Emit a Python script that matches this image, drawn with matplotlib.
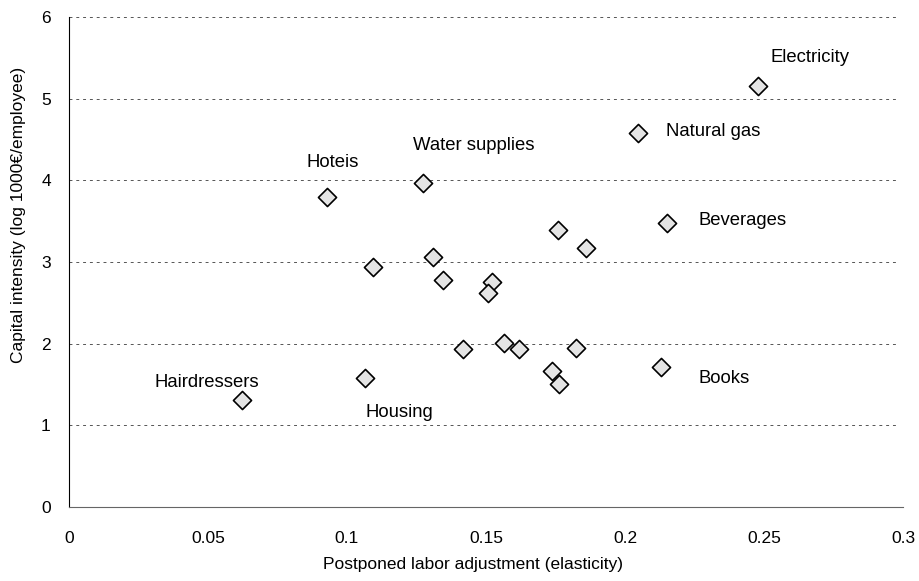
import matplotlib.pyplot as plt

plt.rcParams['font.family'] = ['Liberation Sans', 'DejaVu Sans']

# Datos (elasticidad, intensidad de capital)
elasticidad = [0.0622, 0.0927, 0.1275, 0.1095, 0.1065, 0.1310, 0.1347, 0.1416,
               0.1520, 0.1506, 0.1566, 0.1619, 0.1736, 0.1763, 0.1760, 0.1859,
               0.1824, 0.2047, 0.2150, 0.2130, 0.2480]
intensidad = [1.31, 3.80, 3.97, 2.94, 1.58, 3.06, 2.78, 1.94,
              2.76, 2.62, 2.01, 1.94, 1.66, 1.51, 3.39, 3.17,
              1.95, 4.58, 3.48, 1.71, 5.15]

# Etiquetas de sectores y su posición
sectores = ['Hairdressers', 'Housing', 'Hoteis', 'Water supplies',
            'Electricity', 'Natural gas', 'Beverages', 'Books']
pos_etiquetas = [(0.0309, 1.53), (0.1068, 1.16), (0.0856, 4.22), (0.1237, 4.43),
                 (0.2522, 5.50), (0.2147, 4.60), (0.2263, 3.51), (0.2266, 1.57)]

fig = plt.figure(figsize=(9.19, 5.81), dpi=100)
ax = fig.add_axes([0.075, 0.1274, 0.9076, 0.8433])

for y in [1, 2, 3, 4, 5, 6]:
    ax.axhline(y, xmax=0.993, color='#555555', linewidth=0.7,
               linestyle=(0, (3, 4)), zorder=1)

ax.scatter(elasticidad, intensidad, marker='D', s=85, facecolor='#e4e4e4',
           edgecolor='black', linewidth=1.2, zorder=3)

for nombre, (px, py) in zip(sectores, pos_etiquetas):
    ax.text(px, py, nombre, fontsize=13.3, ha='left', va='center')

ax.set_xlim(0, 0.3)
ax.set_ylim(0, 6)
ax.set_xticks([0, 0.05, 0.1, 0.15, 0.2, 0.25, 0.3])
ax.set_xticklabels(['0', '0.05', '0.1', '0.15', '0.2', '0.25', '0.3'])
ax.set_yticks([0, 1, 2, 3, 4, 5, 6])
ax.tick_params(length=0, labelsize=12.5)
ax.tick_params(axis='x', pad=17)
ax.tick_params(axis='y', pad=13)

ax.spines['top'].set_visible(False)
ax.spines['right'].set_visible(False)
ax.spines['left'].set_color('black')
ax.spines['left'].set_linewidth(0.8)
ax.spines['bottom'].set_color('#666666')
ax.spines['bottom'].set_linewidth(0.8)

ax.set_xlabel('Postponed labor adjustment (elasticity)', fontsize=12.5, va='center')
ax.set_ylabel('Capital intensity (log 1000€/employee)', fontsize=12.5, va='center')
ax.xaxis.set_label_coords(0.484, -0.118)
ax.yaxis.set_label_coords(-0.061, 0.596)

fig.savefig('out.png', dpi=100)
